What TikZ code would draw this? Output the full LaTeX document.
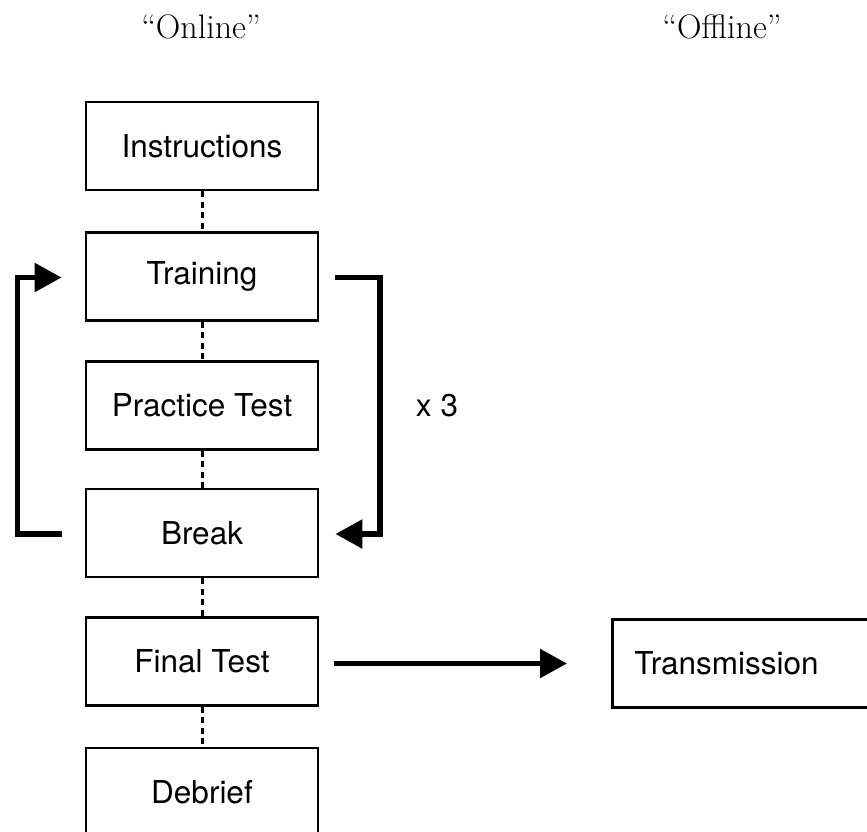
\documentclass[tikz,border=0pt]{standalone}
\usepackage{fontspec}
\setsansfont{TeX Gyre Heros}
\usetikzlibrary{arrows.meta}

\tikzset{
  stage/.style={draw=black, line width=2.8pt, minimum width=232pt, minimum height=88pt,
    inner sep=0pt, font=\sffamily\fontsize{31.5}{36}\selectfont},
  link/.style={line width=3pt, dash pattern=on 6pt off 4.5pt},
  flow/.style={line width=5.5pt, -{Triangle[length=27pt,width=28pt]}},
  heading/.style={anchor=base, font=\fontsize{34}{40}\selectfont},
  note/.style={anchor=base, font=\sffamily\fontsize{31.5}{36}\selectfont}
}

\begin{document}
\begin{tikzpicture}[x=1pt, y=-1pt]
  \useasboundingbox (0,0) rectangle (867,832);
  \clip (0,0) rectangle (867,832);

  % column headings
  \node[heading] (online)  at (201,39) {``Online''};
  \node[heading] (offline) at (722,39) {``Offline''};

  % session stages
  \node[stage] (inst)  at (202,146)   {Instructions};
  \node[stage] (train) at (202,276.5) {Training};
  \node[stage] (prac)  at (202,405.5) {Practice Test};
  \node[stage] (brk)   at (202,533)   {Break};
  \node[stage] (fin)   at (202,661.5) {Final Test};
  \node[stage] (deb)   at (202,792)   {Debrief};

  % offline stage
  \node[stage, anchor=west, minimum width=280pt, text width=236pt, inner xsep=22pt,
        align=left] (trans) at (611,663.5) {Transmission};

  % sequence links
  \draw[link] (inst.south)  -- (train.north);
  \draw[link] (train.south) -- (prac.north);
  \draw[link] (prac.south)  -- (brk.north);
  \draw[link] (brk.south)   -- (fin.north);
  \draw[link] (fin.south)   -- (deb.north);

  % repetition loop
  \coordinate (lb) at ([xshift=-23pt,yshift=-1pt]brk.west);
  \coordinate (lt) at ([xshift=-23pt,yshift=-1pt]train.west);
  \coordinate (rt) at ([xshift=16pt,yshift=-1pt]train.east);
  \coordinate (rb) at ([xshift=16pt,yshift=-1pt]brk.east);
  \draw[flow] (lb) -- (17.5,534) -- (17.5,277.5) -- (lt);
  \draw[flow] (rt) -- (380,277.5) -- (380,534) -- (rb);
  \node[note] (reps) at (437,416) {x 3};

  % hand-off to the offline stage
  \draw[flow] ([xshift=15pt]trans.west -| fin.east) -- ([xshift=-44pt]trans.west);
\end{tikzpicture}
\end{document}
